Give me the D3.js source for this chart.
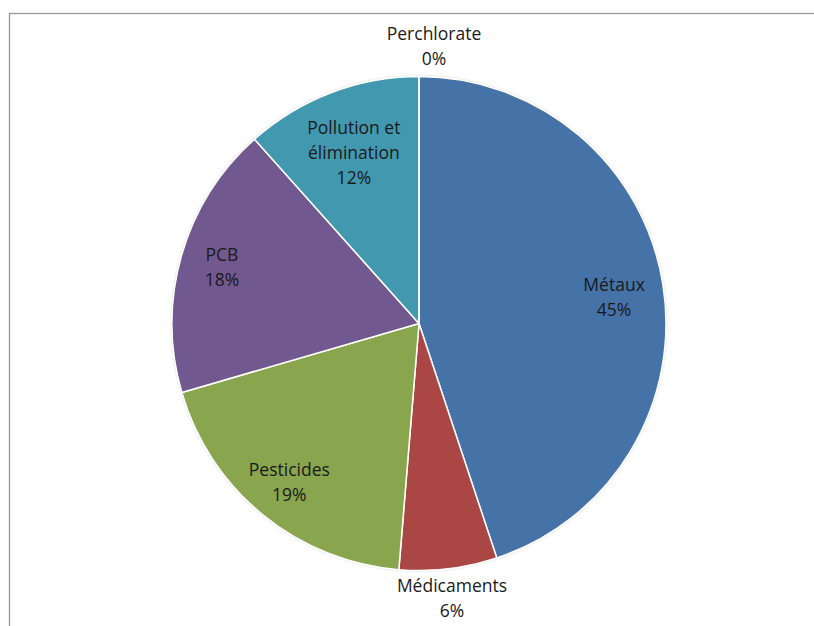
<!DOCTYPE html>
<html>
<head>
<meta charset="utf-8">
<script src="https://cdn.jsdelivr.net/npm/d3@7"></script>
<style>
  body { margin: 0; background: white; }
  .sliceLabel { font-family: 'Open Sans', sans-serif; font-size: 17.5px; fill: #1a1a1a; font-variant-ligatures: none; }
</style>
</head>
<body>
<div id="pie"></div>
<script>
// categories and shares (percent), clockwise from 12 o'clock
let categories = ['Métaux', 'Médicaments', 'Pesticides', 'PCB', 'Pollution et élimination', 'Perchlorate'];
let shares = [44.9, 6.4, 19.2, 17.9, 11.6, 0];
let labelLines = [['Métaux'], ['Médicaments'], ['Pesticides'], ['PCB'], ['Pollution et', 'élimination'], ['Perchlorate']];
let colors = ['#4572a7', '#aa4643', '#89a54e', '#71588f', '#4198af', '#db843d'];

let width = 814;
let height = 626;
let cx = 419;
let cy = 323.5;
let radius = 247;
let lineHeight = 25;

let svg = d3
    .select('#pie')
    .append('svg')
    .attr('width', width)
    .attr('height', height);

// chart frame
svg
    .append('rect')
    .attr('x', 9.5)
    .attr('y', 13.5)
    .attr('width', width + 20)
    .attr('height', height + 20)
    .attr('fill', 'white')
    .attr('stroke', '#999')
    .attr('stroke-width', 1.3);

let defs = svg.append('defs');
let shadow = defs
    .append('filter')
    .attr('id', 'shadow')
    .attr('x', '-10%')
    .attr('y', '-10%')
    .attr('width', '120%')
    .attr('height', '120%');
shadow
    .append('feDropShadow')
    .attr('dx', 0)
    .attr('dy', 0)
    .attr('stdDeviation', 1.5)
    .attr('flood-color', '#000')
    .attr('flood-opacity', 0.25);

let data = categories.map((c, i) => ({ name: c, value: shares[i], lines: labelLines[i], color: colors[i] }));

let pie = d3
    .pie()
    .sort(null)
    .value(d => d.value);

let arcs = pie(data);

let arc = d3
    .arc()
    .innerRadius(0)
    .outerRadius(radius);

let g = svg
    .append('g')
    .attr('transform', `translate(${cx},${cy})`);

g
    .append('circle')
    .attr('r', radius)
    .attr('fill', 'white')
    .attr('filter', 'url(#shadow)');

g
    .selectAll('path')
    .data(arcs)
    .enter()
    .append('path')
    .attr('d', arc)
    .attr('fill', d => d.data.color)
    .attr('stroke', 'white')
    .attr('stroke-width', 1.5)
    .attr('stroke-linejoin', 'round');

// small slices get their label outside the pie, the rest inside
function labelRadius(d) {
    if (d.data.value < 10) {
        return radius * 1.12;
    }
    if (d.data.lines.length > 1) {
        return radius * 0.74;
    }
    if (d.data.value > 40) {
        return radius * 0.8;
    }
    return radius * 0.83;
}

let labels = g
    .selectAll('text.sliceLabel')
    .data(arcs)
    .enter()
    .append('text')
    .attr('class', 'sliceLabel')
    .attr('text-anchor', 'middle')
    .attr('transform', d => {
        let r = labelRadius(d);
        let [x, y] = d3.arc().innerRadius(r).outerRadius(r).centroid(d);
        if (d.endAngle - d.startAngle === 0) {
            x += 15;
        }
        if (d.data.value > 40) {
            y += 5;
        }
        return `translate(${x},${y})`;
    });

labels.each(function (d) {
    let pct = Math.round(d.data.value) + '%';
    let rows = d.data.lines.concat([pct]);
    let top = -(rows.length - 1) * lineHeight / 2;
    d3.select(this)
        .selectAll('tspan')
        .data(rows)
        .enter()
        .append('tspan')
        .attr('x', 0)
        .attr('y', (t, i) => top + i * lineHeight)
        .attr('dy', '0.35em')
        .text(t => t);
});
</script>
</body>
</html>
